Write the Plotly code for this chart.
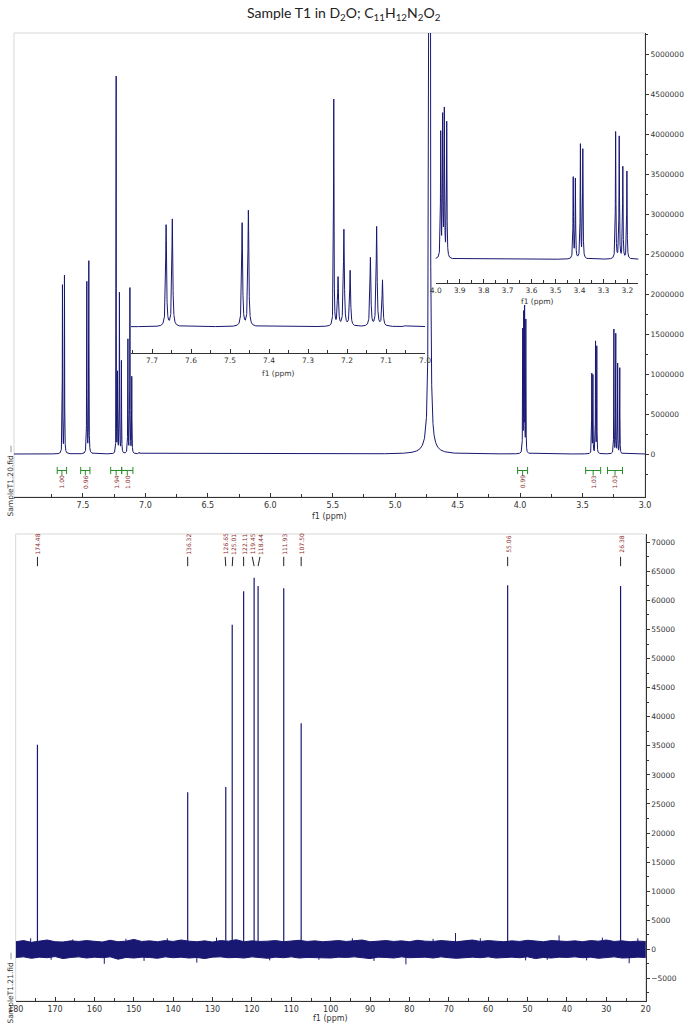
"""1H and 13C NMR spectra of sample T1 in D2O, two stacked panels."""

import numpy as np
import plotly.graph_objects as go

W, H = 688, 1024

TITLE = ("Sample T1 in D<sub>2</sub>O; "
         "C<sub>11</sub>H<sub>12</sub>N<sub>2</sub>O<sub>2</sub>")

# 1H lines: centre (ppm), height, half width (ppm)
# (the solvent line at 4.725 is a sharp line sitting on a broad foot)
h1_ppm = [7.664, 7.648, 7.469, 7.453, 7.234, 7.223, 7.208, 7.192,
          7.140, 7.124, 7.109, 7.050, 4.725, 4.725,
          3.979, 3.971, 3.964, 3.954, 3.426, 3.417, 3.396, 3.386,
          3.249, 3.234, 3.219, 3.202]
h1_height = [2.10e6, 2.22e6, 2.14e6, 2.40e6, 4.70e6, 1.00e6, 2.00e6, 1.15e6,
             1.42e6, 2.06e6, 0.95e6, 0.02e6, 2.0e7, 0.08e6,
             1.52e6, 1.70e6, 1.78e6, 1.65e6, 0.99e6, 0.97e6, 1.39e6, 1.33e6,
             1.55e6, 1.49e6, 1.12e6, 1.07e6]
h1_hwhm = ([0.0014] * 4 + [0.0007] + [0.0014] * 6 + [0.003, 0.0035, 0.05]
           + [0.0012] * 12)

# integrals: start / end (ppm) and value
int_start = [7.706, 7.518, 7.278, 7.190, 4.020, 3.475, 3.300]
int_end = [7.631, 7.444, 7.190, 7.100, 3.940, 3.355, 3.180]
int_value = ["1.00", "0.96", "1.94", "1.00", "0.99", "1.03", "1.03"]

# 13C peaks (ppm) and heights
c13_ppm = [174.48, 136.32, 126.65, 125.01, 122.11, 119.45, 118.44,
           111.93, 107.50, 55.06, 26.38]
c13_height = [35200, 27000, 27900, 55800, 61600, 63900, 62500,
              62100, 38900, 62600, 62500]

# 13C baseline noise: envelope every 2 ppm from 180 to 20
noise_x = list(range(180, 19, -2))
noise_upper = [1300, 1500, 1200, 1400, 1600, 1300, 1250, 1450, 1350, 1500,
               1400, 1250, 1550, 1300, 1400, 1700, 1350, 1450, 1300, 1500,
               1350, 1600, 1400, 1300, 1450, 1250, 1500, 1400, 1650, 1300,
               1450, 1350, 1400, 1500, 1300, 1400, 1550, 1350, 1450, 1300,
               1400, 1500, 1350, 1450, 1600, 1300, 1400, 1500, 1350, 1450,
               1300, 1550, 1400, 1350, 1500, 1400, 1300, 1450, 1600, 1350,
               1500, 1400, 1300, 1450, 1350, 1550, 1400, 1300, 1500, 1400,
               1350, 1450, 1300, 1500, 1400, 1600, 1350, 1450, 1300, 1400,
               1350]
noise_lower = [-1400, -1300, -1550, -1350, -1450, -1250, -1600, -1400, -1300, -1500,
               -1350, -1450, -1300, -1700, -1400, -1500, -1350, -1400, -1550, -1300,
               -1450, -1350, -1500, -1400, -1600, -1350, -1300, -1450, -1400, -1500,
               -1300, -1400, -1550, -1350, -1450, -1300, -1500, -1400, -1350, -1450,
               -1500, -1350, -1400, -1300, -1450, -1600, -1350, -1400, -1500, -1300,
               -1450, -1400, -1350, -1500, -1300, -1450, -1550, -1400, -1350, -1450,
               -1300, -1500, -1400, -1350, -1450, -1300, -1600, -1400, -1500, -1350,
               -1400, -1300, -1450, -1350, -1550, -1400, -1300, -1500, -1450, -1350,
               -1400]
spike_ppm = [176.2, 171.0, 165.5, 157.5, 152.0, 147.4, 141.5, 134.0, 129.0,
             115.5, 103.0, 94.5, 89.0, 80.9, 74.0, 68.3, 62.0, 50.5, 45.0,
             42.0, 35.0, 31.0, 24.2, 22.0]
spike_value = [1900, -1800, 1700, -2500, 1800, -2000, 1900, -2300, 2000,
               -1900, -1800, 1900, -2000, -2600, 1800, 2800, 1900, -1900, -1800,
               2400, -1900, 2000, -2400, 1900]

NAVY = "rgb(24,24,115)"
GREEN = "rgb(40,140,40)"
LABEL_RED = "rgb(140,40,40)"
AXIS = "#333333"
FONT = "DejaVu Sans"


def _px_x(px):
    return px / W


def _px_y(py):
    return 1 - py / H


def _lorentz_sum(x, centres, heights, widths):
    y = np.zeros_like(x)
    for c, h, w in zip(centres, heights, widths):
        y += h * w**2 / (w**2 + (x - c)**2)
    return y


def _spread_labels(ppm, gap):
    pos = list(ppm)
    for _ in range(200):
        for i in range(len(pos) - 1):
            d = pos[i] - pos[i + 1]
            if d < gap:
                push = (gap - d) / 2
                pos[i] += push
                pos[i + 1] -= push
    return pos


def _sticks(xs, y0, y1s):
    x, y = [], []
    for p, h in zip(xs, y1s):
        x += [p, p, None]
        y += [y0, h, None]
    return x, y


def _xaxis(domain, rng, anchor, tickvals, minor, fmt, size=8):
    return dict(domain=domain, range=rng, anchor=anchor, showgrid=False,
                zeroline=False, showline=True, linecolor=AXIS, linewidth=1,
                ticks="inside", ticklen=4, tickcolor=AXIS, tickvals=tickvals,
                tickformat=fmt, tickfont=dict(size=size, color=AXIS, family=FONT),
                minor=dict(tickvals=minor, ticks="inside", ticklen=3,
                           tickcolor=AXIS),
                automargin=False)


def _yaxis(domain, rng, anchor, tickvals, minor):
    return dict(domain=domain, range=rng, anchor=anchor, side="right",
                showgrid=False, zeroline=False, showline=True, linecolor=AXIS,
                linewidth=1, ticks="outside", ticklen=3, tickcolor=AXIS,
                tickvals=tickvals, tickformat="d",
                tickfont=dict(size=7.5, color=AXIS, family=FONT),
                minor=dict(tickvals=minor, ticks="outside", ticklen=2,
                           tickcolor=AXIS),
                automargin=False)


def _text(x, y, text, xref="paper", yref="paper", size=8, color=AXIS,
          angle=0, family=FONT):
    return dict(x=x, y=y, xref=xref, yref=yref, text=text, showarrow=False,
                textangle=angle, xanchor="center", yanchor="middle",
                font=dict(size=size, color=color, family=family))


# ---- 1H spectrum
ppm_grid = np.arange(3.0, 8.06, 0.0002)
h1_curve = _lorentz_sum(ppm_grid, h1_ppm, h1_height, h1_hwhm)
in1 = (ppm_grid >= 6.99) & (ppm_grid <= 7.76)
in2 = (ppm_grid >= 3.15) & (ppm_grid <= 4.005)

fig = go.Figure()
fig.add_trace(go.Scatter(x=ppm_grid, y=h1_curve, mode="lines",
                         line=dict(color=NAVY, width=1),
                         xaxis="x", yaxis="y"))
fig.add_trace(go.Scatter(x=ppm_grid[in1], y=h1_curve[in1], mode="lines",
                         line=dict(color=NAVY, width=1),
                         xaxis="x3", yaxis="y3"))
fig.add_trace(go.Scatter(x=ppm_grid[in2], y=h1_curve[in2], mode="lines",
                         line=dict(color=NAVY, width=1),
                         xaxis="x4", yaxis="y4"))

# integral brackets
bar_y, cap, stem_y = -0.206e6, 0.045e6, -0.27e6
ix, iy = [], []
for s, e in zip(int_start, int_end):
    mid = (s + e) / 2
    ix += [s, e, None, s, s, None, e, e, None, mid, mid, None]
    iy += [bar_y, bar_y, None, bar_y - cap, bar_y + cap, None,
           bar_y - cap, bar_y + cap, None, bar_y, stem_y, None]
fig.add_trace(go.Scatter(x=ix, y=iy, mode="lines",
                         line=dict(color=GREEN, width=1),
                         xaxis="x", yaxis="y"))

# ---- 13C spectrum
fig.add_trace(go.Scatter(x=noise_x + noise_x[::-1],
                         y=noise_upper + noise_lower[::-1],
                         mode="lines", fill="toself", fillcolor=NAVY,
                         line=dict(color=NAVY, width=1),
                         xaxis="x2", yaxis="y2"))
sx, sy = _sticks(spike_ppm, 0, spike_value)
fig.add_trace(go.Scatter(x=sx, y=sy, mode="lines",
                         line=dict(color=NAVY, width=1),
                         xaxis="x2", yaxis="y2"))
px_, py_ = _sticks(c13_ppm, 0, c13_height)
fig.add_trace(go.Scatter(x=px_, y=py_, mode="lines",
                         line=dict(color=NAVY, width=1.2),
                         xaxis="x2", yaxis="y2"))

label_pos = _spread_labels(c13_ppm, 1.95)
stem_top, stem_bot, label_y = 67500, 65900, 69700
lx, ly = [], []
for lp, p in zip(label_pos, c13_ppm):
    lx += [lp, p, None]
    ly += [stem_top, stem_bot, None]
fig.add_trace(go.Scatter(x=lx, y=ly, mode="lines",
                         line=dict(color="#222222", width=1),
                         xaxis="x2", yaxis="y2"))

# ---- axes
top_dom_x = [_px_x(14), _px_x(645)]
top_dom_y = [_px_y(497), _px_y(33)]
bot_dom_x = [_px_x(15.7), _px_x(645.7)]
bot_dom_y = [_px_y(1001), _px_y(534)]

fig.update_layout(
    width=W, height=H, showlegend=False,
    margin=dict(l=0, r=0, t=0, b=0),
    paper_bgcolor="white", plot_bgcolor="white",
    xaxis=_xaxis(top_dom_x, [8.052, 3.0], "y",
                 list(np.round(np.arange(7.5, 2.99, -0.5), 2)),
                 list(np.round(np.arange(7.75, 2.99, -0.25), 2)), ".1f"),
    yaxis=_yaxis(top_dom_y, [-0.5375e6, 5.2625e6], "x",
                 list(np.arange(0, 5.0e6 + 1, 5e5)),
                 list(np.arange(-2.5e5, 5.25e6 + 1, 2.5e5))),
    xaxis2=_xaxis(bot_dom_x, [180, 20], "y2",
                  list(range(180, 19, -10)), list(range(175, 20, -5)), "d"),
    yaxis2=_yaxis(bot_dom_y, [-8892, 71430], "x2",
                  list(range(-5000, 70001, 5000)),
                  list(range(-7500, 70001, 2500))),
    xaxis3=_xaxis([_px_x(131), _px_x(425)], [7.754, 7.0], "y3",
                  list(np.round(np.arange(7.7, 6.99, -0.1), 2)),
                  list(np.round(np.arange(7.75, 6.99, -0.05), 2)), ".1f", 7.5),
    yaxis3=dict(domain=[_px_y(353.3), _px_y(90)], range=[-0.552e6, 4.911e6],
                anchor="x3", visible=False),
    xaxis4=_xaxis([_px_x(435.7), _px_x(638.3)], [4.0, 3.1544], "y4",
                  list(np.round(np.arange(4.0, 3.15, -0.1), 2)),
                  list(np.round(np.arange(3.95, 3.15, -0.05), 2)), ".1f", 7.5),
    yaxis4=dict(domain=[_px_y(282.7), _px_y(40)], range=[-0.286e6, 2.681e6],
                anchor="x4", visible=False),
)

# light frame around each panel
for xr, yr in (("x domain", "y domain"), ("x2 domain", "y2 domain")):
    fig.add_shape(type="rect", xref=xr, yref=yr, x0=0, x1=1, y0=0, y1=1,
                  line=dict(color="rgb(215,215,215)", width=1), layer="below")

notes = [
    _text(0.5, _px_y(13), TITLE, size=14, color="#222222", family="Lato"),
    _text(0.5, _px_y(516), "f1 (ppm)", xref="x domain"),
    _text(0.5, _px_y(373), "f1 (ppm)", xref="x3 domain", size=7.5),
    _text(0.5, _px_y(301.5), "f1 (ppm)", xref="x4 domain", size=7.5),
    _text(0.5, _px_y(1018), "f1 (ppm)", xref="x2 domain"),
    _text(_px_x(9.5), _px_y(481), "SampleT1.20.fid —", size=7.5, angle=-90),
    _text(_px_x(9.5), _px_y(988), "SampleT1.21.fid —", size=7.5, angle=-90),
]
for s, e, v in zip(int_start, int_end, int_value):
    notes.append(_text((s + e) / 2, -0.345e6, v, xref="x", yref="y",
                       size=6, color=LABEL_RED, angle=-90))
for lp, p in zip(label_pos, c13_ppm):
    notes.append(_text(lp, label_y, f"{p:.2f}", xref="x2", yref="y2",
                       size=6, color=LABEL_RED, angle=-90))
fig.update_layout(annotations=notes)

# the page's default body margin would shift the figure by 8 px
fig.write_html("out.html", config={"displayModeBar": False},
               post_script="document.body.style.margin='0';"
                           "document.body.style.overflow='hidden';")
